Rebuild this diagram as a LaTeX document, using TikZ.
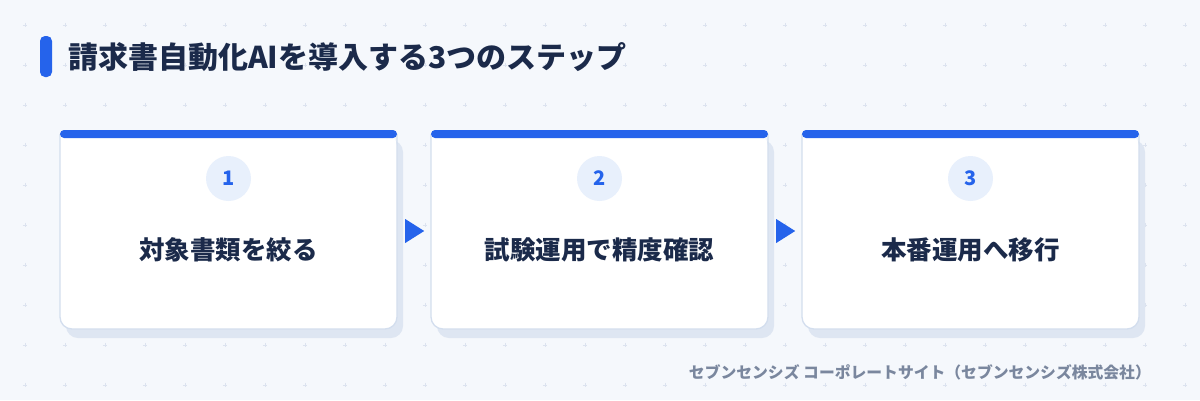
\documentclass[tikz,border=0pt]{standalone}
\usepackage{fontspec}
\setmainfont{Noto Sans CJK JP}
\usetikzlibrary{calc}
\definecolor{bgc}{HTML}{F5F8FC}
\definecolor{accent}{HTML}{2563EB}
\definecolor{navy}{HTML}{1B2A4A}
\definecolor{gridc}{HTML}{DCE3EF}
\definecolor{shadowc}{HTML}{DEE6F2}
\definecolor{borderc}{HTML}{D3DEEE}
\definecolor{circc}{HTML}{E8F0FC}
\definecolor{footc}{HTML}{7A879E}
\tikzset{
  numcirc/.style={circle, fill=circc, minimum size=45pt, inner sep=0pt, text=accent, font=\bfseries\fontsize{20}{22}\selectfont},
  steplabel/.style={text=navy, inner sep=0pt, font=\bfseries\fontsize{25.5}{28}\selectfont},
  cardnode/.style={minimum width=337pt, minimum height=199pt, inner sep=0pt},
}
\begin{document}
\begin{tikzpicture}[x=1pt,y=-1pt]
\fill[bgc] (0,0) rectangle (1200,400);
\useasboundingbox (0,0) rectangle (1200,400);
% background plus grid
\foreach \gx in {25,65,...,1185} {
  \foreach \gy in {25,65,...,385} {
    \draw[gridc, line width=0.8pt] (\gx-2.2,\gy)--(\gx+2.2,\gy) (\gx,\gy-2.2)--(\gx,\gy+2.2);
  }
}
% title
\fill[accent, rounded corners=5pt] (40,36) rectangle (52,77);
\node[anchor=west, text=navy, inner sep=0pt, font=\bfseries\fontsize{30}{36}\selectfont] (title) at (68,57) {請求書自動化AIを導入する3つのステップ};
% cards
\foreach \i/\x/\t in {1/60/対象書類を絞る, 2/431/試験運用で精度確認, 3/802/本番運用へ移行} {
  \fill[shadowc, rounded corners=12pt] (\x+6,140) rectangle (\x+343,338);
  \fill[white, rounded corners=12pt] (\x,134) -- (\x,329) -- (\x+337,329) -- (\x+337,134) -- (\x,134);
  \draw[borderc, line width=1.3pt, rounded corners=12pt] (\x,134) -- (\x,329) -- (\x+337,329) -- (\x+337,134);
  \fill[accent, rounded corners=4pt] (\x,130) rectangle (\x+337,138);
  \node[cardnode] (card\i) at (\x+168.5,231.5) {};
  \node[numcirc] (num\i) at (\x+168.5,178.5) {\i};
  \node[steplabel] (lab\i) at (\x+168.5,250) {\t};
}
% arrows between cards
\fill[accent] ($(card1.east)+(8,-12.5)$) -- ($(card1.east)+(27,-0.5)$) -- ($(card1.east)+(8,11.5)$) -- cycle;
\fill[accent] ($(card2.east)+(8,-12.5)$) -- ($(card2.east)+(27,-0.5)$) -- ($(card2.east)+(8,11.5)$) -- cycle;
% footer
\node[anchor=east, text=footc, inner sep=0pt, font=\bfseries\fontsize{15.8}{18}\selectfont] (foot) at (1151,372) {セブンセンシズ コーポレートサイト（セブンセンシズ株式会社）};
\end{tikzpicture}
\end{document}
